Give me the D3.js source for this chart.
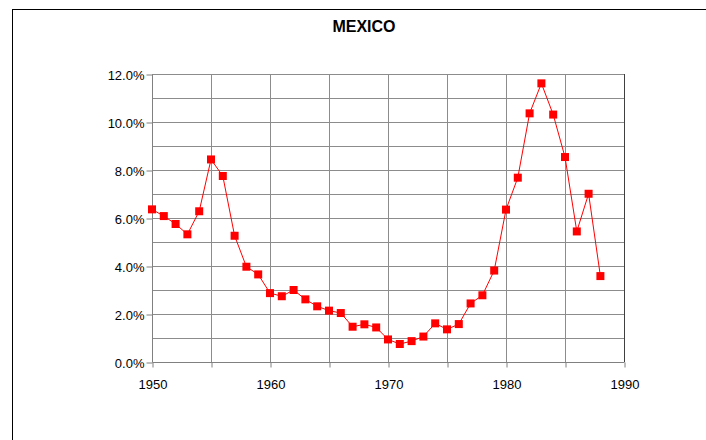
<!DOCTYPE html>
<html><head><meta charset="utf-8">
<script src="https://cdn.jsdelivr.net/npm/d3@7"></script>
<style>body{margin:0;background:#fff}svg{display:block}</style>
</head><body>
<script>
const title = "MEXICO";
const years = [1950,1951,1952,1953,1954,1955,1956,1957,1958,1959,1960,1961,1962,1963,1964,1965,1966,1967,1968,1969,1970,1971,1972,1973,1974,1975,1976,1977,1978,1979,1980,1981,1982,1983,1984,1985,1986,1987,1988];
const values = [6.36,6.08,5.75,5.32,6.28,8.44,7.75,5.26,3.97,3.65,2.87,2.74,3.0,2.61,2.32,2.14,2.04,1.47,1.57,1.44,0.94,0.75,0.87,1.06,1.61,1.36,1.58,2.44,2.78,3.81,6.35,7.68,10.36,11.61,10.31,8.54,5.44,7.01,3.58];
const xTickLabels = [1950,1960,1970,1980,1990];
const yTickLabels = [0,2,4,6,8,10,12];

const W=706,H=440;
const FONT="Liberation Sans, Arial, sans-serif";
const svg=d3.select("body").append("svg").attr("width",W).attr("height",H);
svg.append("rect").attr("x",12.5).attr("y",9.5).attr("width",W+10).attr("height",H+10)
  .attr("fill","none").attr("stroke","#000").attr("stroke-width",1);
svg.append("text").attr("x",364).attr("y",32).attr("text-anchor","middle")
  .attr("font-family",FONT).attr("font-weight","bold")
  .attr("font-size",16).text(title);

const L=152,R=624,T=74,B=362;
const x=d3.scaleLinear().domain([1950,1990]).range([L,R]);
const y=d3.scaleLinear().domain([0,12]).range([B,T]);
const g=svg.append("g");
// gridlines
g.selectAll(".hg").data(d3.range(1,13)).join("line")
  .attr("x1",L).attr("x2",R).attr("y1",d=>Math.round(y(d))+0.5).attr("y2",d=>Math.round(y(d))+0.5)
  .attr("stroke","#8c8c8c").attr("stroke-width",1);
g.selectAll(".vg").data(d3.range(1955,1995,5)).join("line")
  .attr("y1",T).attr("y2",B).attr("x1",d=>Math.round(x(d))+0.5).attr("x2",d=>Math.round(x(d))+0.5)
  .attr("stroke",d=>d===1990?"#404040":"#8c8c8c").attr("stroke-width",1);
// axes
const xAxis=d3.axisBottom(x).tickValues(d3.range(1950,1995,5)).tickSize(5)
  .tickFormat(d=>xTickLabels.includes(d)?d:"");
const ax=svg.append("g").attr("transform",`translate(0.5,${B+0.5})`).call(xAxis);
ax.select(".domain").attr("stroke","#808080").attr("d",`M${L},0H${R}`);
ax.selectAll(".tick line").attr("stroke","#808080");
ax.selectAll("text").attr("font-family",FONT).attr("font-size",13).attr("fill","#000").attr("y",26.5).attr("dy",0);
const yAxis=d3.axisLeft(y).tickValues(yTickLabels).tickSize(6).tickFormat(d=>d.toFixed(1)+"%");
const ay=svg.append("g").attr("transform",`translate(${L+0.5},0.5)`).call(yAxis);
ay.select(".domain").attr("stroke","#808080").attr("d",`M0,${T}V${B}`);
ay.selectAll(".tick line").attr("stroke","#808080");
ay.selectAll("text").attr("font-family",FONT).attr("font-size",13).attr("fill","#000").attr("dy","0.35em").attr("x",-8);
// line
const data=years.map((yr,i)=>({yr,v:values[i]}));
svg.append("path").datum(data).attr("fill","none").attr("stroke","#ff0000").attr("stroke-width",1)
  .attr("d",d3.line().x(d=>x(d.yr)).y(d=>y(d.v)));
svg.selectAll(".m").data(data).join("rect")
  .attr("x",d=>x(d.yr)-4).attr("y",d=>y(d.v)-4).attr("width",8).attr("height",8)
  .attr("fill","#ff0000");
</script>
</body></html>
